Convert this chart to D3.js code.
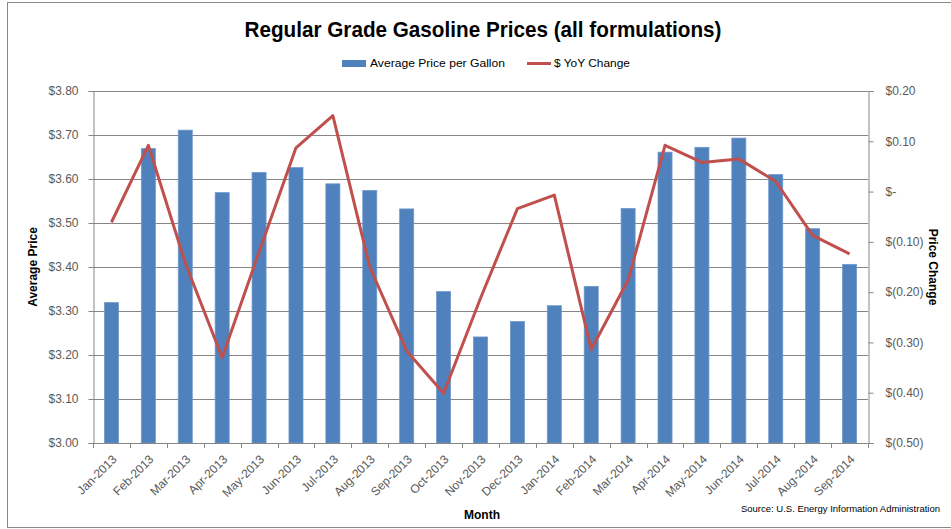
<!DOCTYPE html>
<html>
<head>
<meta charset="utf-8">
<script src="https://cdn.jsdelivr.net/npm/d3@7"></script>
<style>
  body { margin: 0; background: #fff; }
  text { font-family: "Liberation Sans", Arial, sans-serif; }
</style>
</head>
<body>
<div class="chart"></div>
<script>
// data
var months = ["Jan-2013", "Feb-2013", "Mar-2013", "Apr-2013", "May-2013", "Jun-2013", "Jul-2013",
  "Aug-2013", "Sep-2013", "Oct-2013", "Nov-2013", "Dec-2013", "Jan-2014", "Feb-2014",
  "Mar-2014", "Apr-2014", "May-2014", "Jun-2014", "Jul-2014", "Aug-2014", "Sep-2014"];

var avgPrice = [3.319, 3.669, 3.711, 3.569, 3.615, 3.626, 3.589, 3.574, 3.532, 3.344, 3.241,
  3.276, 3.312, 3.356, 3.533, 3.661, 3.672, 3.693, 3.610, 3.487, 3.406];

var yoyChange = [-0.061, 0.092, -0.142, -0.330, -0.120, 0.087, 0.151, -0.150, -0.317, -0.401, -0.212,
  -0.034, -0.007, -0.314, -0.176, 0.092, 0.058, 0.065, 0.020, -0.087, -0.124];

var leftTicks = [3.0, 3.1, 3.2, 3.3, 3.4, 3.5, 3.6, 3.7, 3.8];
var rightTicks = [-0.5, -0.4, -0.3, -0.2, -0.1, 0, 0.1, 0.2];

var svgWidth = 951;
var svgHeight = 529;

var margin = {
  top: 91,
  right: 83,
  bottom: 86,
  left: 93
};

var width = svgWidth - margin.left - margin.right;
var height = svgHeight - margin.top - margin.bottom;

var barColor = "#4f81bd";
var lineColor = "#c0504d";
var gridColor = "#868686";
var tickText = "#595959";

var svg = d3.select(".chart")
  .append("svg")
  .attr("width", svgWidth)
  .attr("height", svgHeight);

// outer frame
svg.append("rect")
  .attr("x", 7.5)
  .attr("y", 2.5)
  .attr("width", svgWidth)
  .attr("height", 525)
  .attr("fill", "none")
  .attr("stroke", "#898989")
  .attr("stroke-width", 1);

var chartGroup = svg.append("g")
  .attr("transform", `translate(${margin.left}, ${margin.top})`);

// scales
var xScale = d3.scaleBand()
  .domain(months)
  .range([0, width])
  .paddingInner(0.62)
  .paddingOuter(0.31);

var yLeft = d3.scaleLinear()
  .domain([3.0, 3.8])
  .range([height, 0]);

var yRight = d3.scaleLinear()
  .domain([-0.5, 0.2])
  .range([height, 0]);

var step = xScale.step();

// gridlines
chartGroup.selectAll(".grid")
  .data(leftTicks)
  .enter()
  .append("line")
  .attr("x1", 0)
  .attr("x2", width)
  .attr("y1", d => Math.round(yLeft(d)) + 0.5)
  .attr("y2", d => Math.round(yLeft(d)) + 0.5)
  .attr("stroke", gridColor)
  .attr("stroke-width", 1);

// bars
chartGroup.selectAll(".bar")
  .data(avgPrice)
  .enter()
  .append("rect")
  .attr("x", (d, i) => xScale(months[i]))
  .attr("y", d => yLeft(d))
  .attr("width", xScale.bandwidth())
  .attr("height", d => height - yLeft(d))
  .attr("fill", barColor)
  .attr("stroke", "#6f98cc")
  .attr("stroke-width", 0.8);

// left axis
var leftAxis = d3.axisLeft(yLeft)
  .tickValues(leftTicks)
  .tickSize(5)
  .tickPadding(10)
  .tickFormat(d => "$" + d3.format(".2f")(d));

var yAxisLeft = chartGroup.append("g")
  .attr("transform", "translate(0.5, 0)")
  .call(leftAxis);

// right axis
function accounting(d) {
  if (Math.abs(d) < 1e-9) return "$-";
  if (d < 0) return "$(" + d3.format(".2f")(-d) + ")";
  return "$" + d3.format(".2f")(d);
}

var rightAxis = d3.axisRight(yRight)
  .tickValues(rightTicks)
  .tickSize(5)
  .tickPadding(12)
  .tickFormat(accounting);

var yAxisRight = chartGroup.append("g")
  .attr("transform", `translate(${width + 0.5}, 0)`)
  .call(rightAxis);

[yAxisLeft, yAxisRight].forEach(function(ax) {
  ax.select(".domain").attr("stroke", gridColor);
  ax.selectAll(".tick line").attr("stroke", gridColor);
  ax.selectAll(".tick text")
    .attr("fill", tickText)
    .style("font-size", "12px");
});

// bottom axis line and category ticks
chartGroup.append("line")
  .attr("x1", 0)
  .attr("x2", width)
  .attr("y1", height + 0.5)
  .attr("y2", height + 0.5)
  .attr("stroke", gridColor);

chartGroup.selectAll(".xtick")
  .data(d3.range(months.length + 1))
  .enter()
  .append("line")
  .attr("x1", d => Math.round(d * step) + 0.5)
  .attr("x2", d => Math.round(d * step) + 0.5)
  .attr("y1", height)
  .attr("y2", height + 5)
  .attr("stroke", gridColor);

chartGroup.selectAll(".xlabel")
  .data(months)
  .enter()
  .append("text")
  .attr("transform", d => `translate(${xScale(d) + xScale.bandwidth() / 2 + 3}, ${height + 14}) rotate(-45)`)
  .attr("text-anchor", "end")
  .attr("dy", "0.35em")
  .attr("fill", tickText)
  .style("font-size", "12px")
  .text(d => d);

// YoY line
var line = d3.line()
  .x((d, i) => xScale(months[i]) + xScale.bandwidth() / 2)
  .y(d => yRight(d));

chartGroup.append("path")
  .datum(yoyChange)
  .attr("d", line)
  .attr("fill", "none")
  .attr("stroke", lineColor)
  .attr("stroke-width", 3)
  .attr("stroke-linejoin", "round");

// title
svg.append("text")
  .attr("x", 483)
  .attr("y", 37)
  .attr("text-anchor", "middle")
  .attr("textLength", 477)
  .attr("lengthAdjust", "spacingAndGlyphs")
  .style("font-size", "22px")
  .style("font-weight", "bold")
  .attr("fill", "#000")
  .text("Regular Grade Gasoline Prices (all formulations)");

// legend
var legend = svg.append("g");

legend.append("rect")
  .attr("x", 342)
  .attr("y", 60)
  .attr("width", 24)
  .attr("height", 7)
  .attr("fill", barColor);

legend.append("text")
  .attr("x", 370)
  .attr("y", 67)
  .attr("textLength", 135)
  .attr("lengthAdjust", "spacingAndGlyphs")
  .style("font-size", "11px")
  .attr("fill", "#000")
  .text("Average Price per Gallon");

legend.append("line")
  .attr("x1", 527)
  .attr("x2", 551)
  .attr("y1", 63.5)
  .attr("y2", 63.5)
  .attr("stroke", lineColor)
  .attr("stroke-width", 3);

legend.append("text")
  .attr("x", 554)
  .attr("y", 67)
  .attr("textLength", 76)
  .attr("lengthAdjust", "spacingAndGlyphs")
  .style("font-size", "11px")
  .attr("fill", "#000")
  .text("$ YoY Change");

// axis titles
svg.append("text")
  .attr("transform", `translate(37, ${margin.top + height / 2}) rotate(-90)`)
  .attr("text-anchor", "middle")
  .style("font-size", "12px")
  .style("font-weight", "bold")
  .attr("fill", "#000")
  .text("Average Price");

svg.append("text")
  .attr("transform", `translate(929, ${margin.top + height / 2}) rotate(90)`)
  .attr("text-anchor", "middle")
  .style("font-size", "12px")
  .style("font-weight", "bold")
  .attr("fill", "#000")
  .text("Price Change");

svg.append("text")
  .attr("x", 482)
  .attr("y", 519)
  .attr("text-anchor", "middle")
  .style("font-size", "12px")
  .style("font-weight", "bold")
  .attr("fill", "#000")
  .text("Month");

// source note
svg.append("text")
  .attr("x", 940)
  .attr("y", 512)
  .attr("text-anchor", "end")
  .style("font-size", "9.5px")
  .attr("fill", "#000")
  .text("Source: U.S. Energy Information Administration");
</script>
</body>
</html>
